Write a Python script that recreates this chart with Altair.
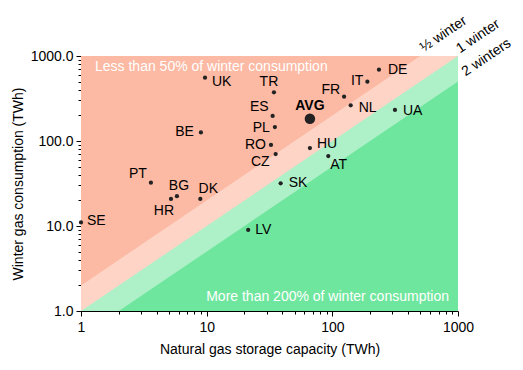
import altair as alt
import pandas as pd

# ---- data ----
countries = ["SE", "PT", "HR", "BG", "DK", "LV", "SK", "UK", "BE", "TR", "ES",
             "PL", "RO", "CZ", "AVG", "HU", "AT", "FR", "NL", "IT", "DE", "UA"]
storage_twh = [1.0, 3.6, 5.2, 5.8, 8.9, 21.4, 38.8, 9.7, 9.0, 34.3, 33.5,
               34.9, 32.5, 35.4, 66.3, 66.3, 92.8, 124, 140, 190, 235, 315]
consumption_twh = [11.0, 32.3, 20.8, 22.4, 20.8, 9.0, 31.8, 555, 126, 374, 197,
                   146, 89.8, 70.3, 183, 82.7, 66.6, 332, 263, 499, 690, 232]

# label placement (layout only): align, dx, dy in pixels from the dot
label_align = ["left", "right", "center", "center", "center", "left", "left", "left",
               "right", "center", "right", "right", "right", "right", "center",
               "left", "left", "right", "left", "right", "left", "left"]
label_dx = [6, -4, -7, 2, 8, 7, 8, 7, -7, -5, -4, -5, -5, -6, 0, 7, 2, -4, 8, -4, 9, 8]
label_dy = [-1, -9, 12, -10, -10, 0, 0, 4, 0, -10, -9, 1, 0, 8, -13, -4, 9, -7, 3, -1, 0, 1]

minor = [m * d for d in [1, 10, 100] for m in range(1, 10)] + [1000]

# zone boundaries: consumption = ratio * storage
zone_ratio = [2.0, 1.0, 0.5]
zone_names = ["½ winter", "1 winter", "2 winters"]
zone_colors = ["#fdd4c6", "#aef0c8", "#6fe69d"]
red_color = "#fcb9a3"

DOM = [1, 1000]
FONT = "Liberation Sans"

xs = alt.Scale(type="log", domain=DOM, nice=False)
ys = alt.Scale(type="log", domain=DOM, nice=False)

major_test = "abs(log(datum.value)/LN10 - round(log(datum.value)/LN10)) < 0.001"

common_axis = dict(
    values=minor, grid=False, domainColor="black", tickColor="black",
    tickSize={"condition": {"test": major_test, "value": 5}, "value": 3},
    labelFontSize=14, labelColor="black", labelOverlap=False, labelFlush=False,
    titleFontSize=14, titleFontWeight="normal", titleColor="black",
    labelFont=FONT, titleFont=FONT,
)
x_axis = alt.Axis(title="Natural gas storage capacity (TWh)",
                  labelExpr=f"({major_test}) ? format(datum.value, 'd') : ''",
                  labelPadding=4, titlePadding=8, **common_axis)
y_axis = alt.Axis(title="Winter gas consumption (TWh)",
                  labelExpr=f"({major_test}) ? format(datum.value, '.1f') : ''",
                  labelPadding=3, titlePadding=5, **common_axis)

# background red rectangle
bg = pd.DataFrame({"x": [DOM[0], DOM[1]], "y": [DOM[1], DOM[1]], "y2": [DOM[0], DOM[0]]})
base_bg = alt.Chart(bg).mark_area(color=red_color, opacity=1).encode(
    x=alt.X("x:Q", scale=xs, axis=x_axis),
    y=alt.Y("y:Q", scale=ys, axis=y_axis),
    y2="y2:Q",
)

layers = [base_bg]
for r, col in zip(zone_ratio, zone_colors):
    x0 = max(DOM[0], DOM[0] / r)
    xb = min(DOM[1], DOM[1] / r)
    pts_x = [x0] + ([xb] if xb < DOM[1] else []) + [DOM[1]]
    pts_y = [min(px * r, DOM[1]) for px in pts_x]
    d = pd.DataFrame({"x": pts_x, "y": pts_y, "y2": [DOM[0]] * len(pts_x)})
    layers.append(alt.Chart(d).mark_area(color=col, opacity=1).encode(
        x=alt.X("x:Q", scale=xs), y=alt.Y("y:Q", scale=ys), y2="y2:Q"))

# zone labels at the end of each boundary
zl = pd.DataFrame({
    "name": zone_names,
    "x": [min(DOM[1] / r, DOM[1]) for r in zone_ratio],
    "y": [min(DOM[1], DOM[1] * r) for r in zone_ratio],
})
zdx = {"½ winter": 5, "1 winter": 3, "2 winters": 9}
zdy = {"½ winter": -1, "1 winter": -1, "2 winters": 0}
for nm in zone_names:
    layers.append(alt.Chart(zl).transform_filter(alt.datum.name == nm).mark_text(
        align="left", baseline="alphabetic", angle=326, fontSize=14, font=FONT,
        color="black", dx=zdx[nm], dy=zdy[nm]).encode(
        x=alt.X("x:Q", scale=xs), y=alt.Y("y:Q", scale=ys), text="name:N"))

# region captions
layers.append(alt.Chart(pd.DataFrame({"t": ["Less than 50% of winter consumption"]})).mark_text(
    align="left", baseline="middle", fontSize=14, font=FONT, color="white").encode(
    x=alt.value(14), y=alt.value(11), text="t:N"))
layers.append(alt.Chart(pd.DataFrame({"t": ["More than 200% of winter consumption"]})).mark_text(
    align="right", baseline="middle", fontSize=14, font=FONT, color="white").encode(
    x=alt.value(368), y=alt.value(241), text="t:N"))

df = pd.DataFrame({"country": countries, "storage": storage_twh,
                   "consumption": consumption_twh})
df["is_avg"] = df["country"] == "AVG"

layers.append(alt.Chart(df).mark_circle(color="#222222", opacity=1).encode(
    x=alt.X("storage:Q", scale=xs), y=alt.Y("consumption:Q", scale=ys),
    size=alt.Size("is_avg:N", scale=alt.Scale(domain=[False, True], range=[18, 110]),
                  legend=None)))

for c, al, dx, dy in zip(countries, label_align, label_dx, label_dy):
    layers.append(alt.Chart(df).transform_filter(alt.datum.country == c).mark_text(
        align=al, baseline="middle", dx=dx, dy=dy, fontSize=14, font=FONT,
        color="black", fontWeight="bold" if c == "AVG" else "normal").encode(
        x=alt.X("storage:Q", scale=xs), y=alt.Y("consumption:Q", scale=ys),
        text="country:N"))

chart = alt.layer(*layers).properties(
    width=377, height=255,
    autosize=alt.AutoSizeParams(type="none"),
    padding={"left": 73, "top": 48, "right": 57, "bottom": 51},
    background="white",
).configure_view(stroke=None)

chart.save("out.html", embed_options={"renderer": "svg", "actions": False})
